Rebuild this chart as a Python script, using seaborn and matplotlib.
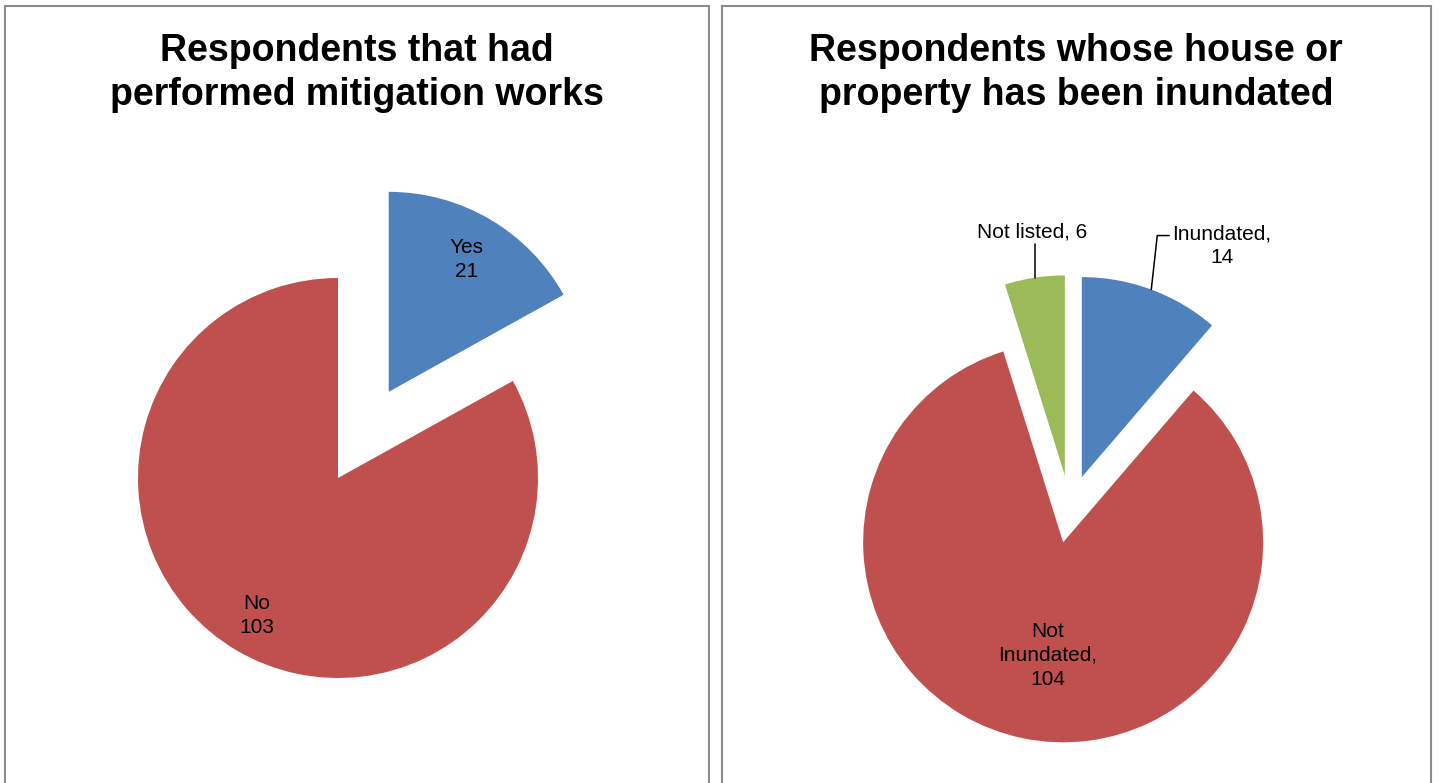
import numpy as np
import matplotlib
matplotlib.use("Agg")
import matplotlib.pyplot as plt
import seaborn as sns

# ---------------- data ----------------
mit_labels = ["Yes", "No"]
mit_values = [21, 103]
inu_labels = ["Inundated", "Not Inundated", "Not listed"]
inu_values = [14, 104, 6]
titles = ["Respondents that had\nperformed mitigation works",
          "Respondents whose house or\nproperty has been inundated"]

# ---------------- style ----------------
sns.set_theme(style="white")
plt.rcParams["font.family"] = ["Liberation Sans", "DejaVu Sans"]
palette = ["#4F81BD", "#C0504D", "#9BBB59"]
border = "#8C8C8C"

W, H = 1439, 783
R = 200.0  # pixels per data unit (pie radius = 1)
fig = plt.figure(figsize=(W / 100, H / 100), dpi=100)
fig.patch.set_facecolor("white")

def make_panel(x0, x1, ytop):
    ax = fig.add_axes([x0 / W, 0, (x1 - x0) / W, (H - ytop) / H])
    return ax, (x1 - x0) / R, (H - ytop) / R

def finish(ax, wd, ht):
    ax.set_xlim(0, wd)
    ax.set_ylim(0, ht)
    ax.set_frame_on(True)
    ax.set_xticks([]); ax.set_yticks([])
    for side in ("left", "right", "top"):
        ax.spines[side].set_visible(True)
        ax.spines[side].set_color(border)
        ax.spines[side].set_linewidth(1.5)
    ax.spines["bottom"].set_visible(False)

def polar(w, dist, dang=0.0):
    th = np.deg2rad((w.theta1 + w.theta2) / 2 + dang)
    cx, cy = w.center
    return cx + dist * w.r * np.cos(th), cy + dist * w.r * np.sin(th)

lab_kw = dict(fontsize=15, color="black", ha="center", va="center",
              linespacing=1.33)
title_kw = dict(fontsize=27, fontweight="bold", ha="center", va="center",
                color="black", linespacing=1.3)

# ---------------- left panel ----------------
x0L, x1L = 5.3, 709
axL, wdL, htL = make_panel(x0L, x1L, 6)
cL = ((338 - x0L) / R, (H - 478) / R)
wedges, _ = axL.pie(mit_values, colors=palette[:2], startangle=90,
                    counterclock=False, explode=[0.5, 0.0], radius=1,
                    center=cL, wedgeprops=dict(linewidth=0))
finish(axL, wdL, htL)
for w, lab, val, d in zip(wedges, mit_labels, mit_values, [0.77, 0.80]):
    x, y = polar(w, d)
    axL.text(x, y, f"{lab}\n{val}", **lab_kw)
axL.text(wdL / 2, (H - 73) / R, titles[0], **title_kw)

# ---------------- right panel ----------------
x0R, x1R = 721.5, 1431
axR, wdR, htR = make_panel(x0R, x1R, 6)
cR = ((1070 - x0R) / R, (H - 509) / R)
wedges, _ = axR.pie(inu_values, colors=palette, startangle=90,
                    counterclock=False, explode=[0.17, 0.17, 0.17], radius=1,
                    center=cR, wedgeprops=dict(linewidth=0))
finish(axR, wdR, htR)

# Not Inundated (inside)
x, y = polar(wedges[1], 0.57, 4)
axR.text(x, y, inu_labels[1].replace(" ", "\n") + f",\n{inu_values[1]}", **lab_kw)

# Inundated (outside with elbow leader)
ax_, ay_ = polar(wedges[0], 1.0)
ex, ey = ax_ + 0.03, ay_ + 0.27
axR.plot([ax_, ex, ex + 0.06], [ay_, ey, ey], color="black", lw=1.1)
axR.text(ex + 0.075, ey - 0.05, f"{inu_labels[0]},\n{inu_values[0]}",
         fontsize=15, color="black", ha="left", va="center",
         multialignment="center", linespacing=1.33)

# Not listed (outside, vertical leader)
gx, gy = polar(wedges[2], 1.0)
axR.plot([gx, gx], [gy, gy + 0.17], color="black", lw=1.1)
axR.text(gx - 0.01, gy + 0.23, f"{inu_labels[2]}, {inu_values[2]}", **lab_kw)

axR.text(wdR / 2, (H - 73) / R, titles[1], **title_kw)

fig.savefig("out.png", dpi=100, facecolor="white")
